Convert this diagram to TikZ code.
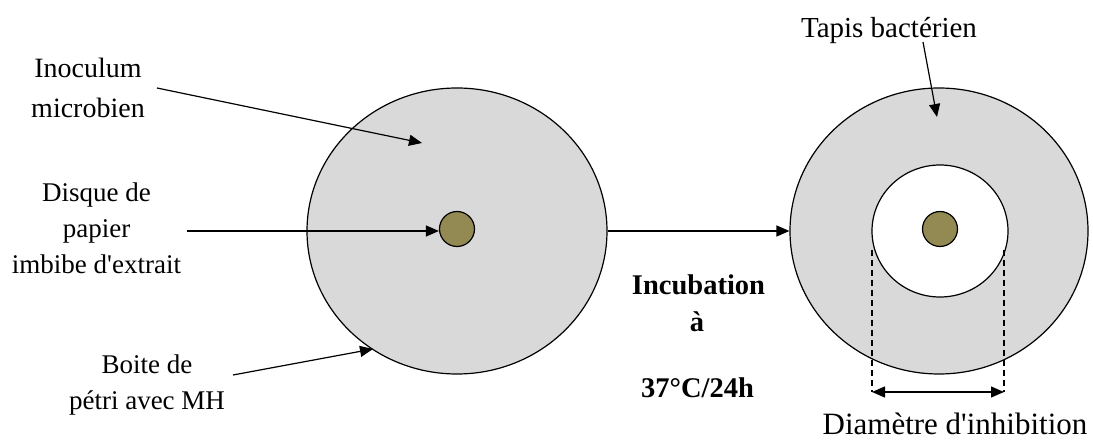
\documentclass[tikz,border=0pt]{standalone}
\usepackage{fontspec}
\setmainfont{Liberation Serif}[Ligatures=TeXOff]
\usetikzlibrary{arrows.meta,shapes.geometric}
\definecolor{plategray}{HTML}{D9D9D9}
\definecolor{discbrown}{HTML}{938953}
\tikzset{
  plate/.style={ellipse, draw=black, line width=1.2bp, fill=plategray, inner sep=0pt},
  disc/.style={circle, draw=black, line width=1.2bp, fill=discbrown, minimum size=35bp, inner sep=0pt},
  halo/.style={ellipse, draw=black, line width=1.2bp, fill=white, minimum width=136bp, minimum height=132bp, inner sep=0pt},
  lbl/.style={align=center, inner sep=0pt, font=\fontsize{27bp}{36bp}\selectfont},
  bold/.style={inner sep=0pt, anchor=base, font=\fontsize{28.5bp}{34bp}\selectfont\bfseries},
  pointer/.style={line width=1.2bp, -{Triangle[length=13bp,width=11bp]}},
  guide/.style={line width=1.5bp, dash pattern=on 6bp off 4bp},
  dimarrow/.style={line width=1.2bp, {Triangle[length=13bp,width=11bp]}-{Triangle[length=13bp,width=11bp]}}
}
\begin{document}
\begin{tikzpicture}[x=1bp, y=-1bp]
\useasboundingbox (0,0) rectangle (1093,441);
% plates
\node[plate, minimum width=300bp, minimum height=286bp] (plate1) at (457,231) {};
\node[disc] (disc1) at (457,229) {};
\node[plate, minimum width=298bp, minimum height=286bp] (plate2) at (939,231) {};
\node[halo] (halo) at (940,231) {};
\node[disc] (disc2) at (940,229) {};
% labels
\node[lbl, font=\fontsize{28bp}{40bp}\selectfont] (inoc) at (88,88) {Inoculum\\microbien};
\node[lbl] (disque) at (96.5,228.5) {Disque de\\papier\\imbibe d'extrait};
\node[lbl] (boite) at (147,385.5) {Boite de\\pétri avec MH};
\node[inner sep=0pt, anchor=base, font=\fontsize{29bp}{34bp}\selectfont] (tapis) at (889,38) {Tapis bactérien};
\node[inner sep=0pt, anchor=base, font=\fontsize{31bp}{36bp}\selectfont] (diam) at (955,435) {Diamètre d'inhibition};
\node[bold] (incub) at (698.5,295) {Incubation};
\node[bold] (a) at (697,332) {à};
\node[bold] (temp) at (697.5,398) {37°C/24h};
% coordinates
\coordinate (inocS) at (157,88);
\coordinate (inocE) at (422,143);
\coordinate (disqueS) at (187,231);
\coordinate (boiteS) at (233,375);
\coordinate (boiteE) at (373,349);
\coordinate (tapisS) at (923,42);
\coordinate (tapisE) at (937,117);
\coordinate (dL) at (872,250);
\coordinate (dR) at (1004,250);
\coordinate (aL) at (872,392);
\coordinate (aR) at (1004,392);
% connectors
\draw[pointer] (inocS) -- (inocE);
\draw[pointer] (disqueS) -- (disqueS -| disc1.west);
\draw[pointer] (boiteS) -- (boiteE);
\draw[pointer] (tapisS) -- (tapisE);
\draw[pointer] (plate1.east) -- (plate2.west);
\draw[guide] (dL) -- (aL);
\draw[guide] (dR) -- (aR);
\draw[dimarrow] (aL) -- (aR);
\end{tikzpicture}
\end{document}
